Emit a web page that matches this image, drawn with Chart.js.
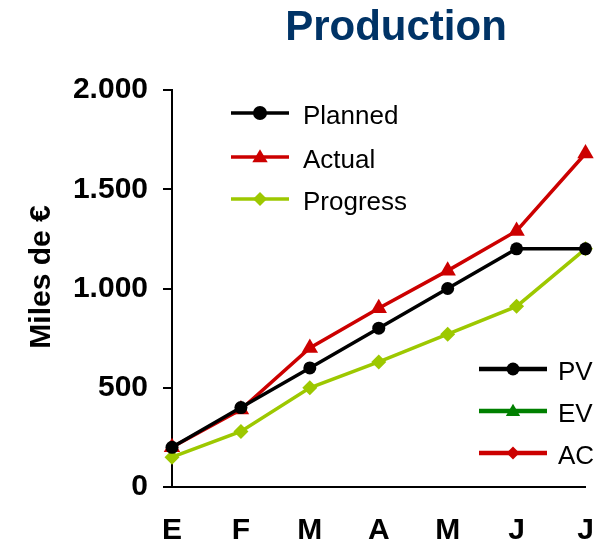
<!DOCTYPE html>
<html>
<head>
<meta charset="utf-8">
<title>Production</title>
<script src="https://cdn.jsdelivr.net/npm/chart.js@4/dist/chart.umd.min.js"></script>
<style>
  html, body { margin: 0; padding: 0; background: #ffffff; }
  #wrap { width: 595px; height: 544px; position: relative; }
</style>
</head>
<body>
<div id="wrap"><canvas id="chart" width="595" height="544"></canvas></div>
<script>
// Months (Spanish initials)
const months = ['E', 'F', 'M', 'A', 'M', 'J', 'J'];

// Values in miles de €
const planned  = [200, 400, 600, 800, 1000, 1200, 1200];
const actual   = [200, 390, 700, 900, 1090, 1290, 1680];
const progress = [150, 280, 500, 630, 770, 910, 1200];

// Y axis ticks
const yTicks = [0, 500, 1000, 1500, 2000];

const FONT = "'Liberation Sans', Arial, Helvetica, sans-serif";
const BLACK = '#000000';
const RED = '#CC0000';
const LIME = '#9DC800';
const GREEN = '#008000';

function fmtThousands(v) {
  return String(Math.round(v)).replace(/\B(?=(\d{3})+(?!\d))/g, '.');
}

function drawMarker(ctx, style, x, y, r, color) {
  ctx.save();
  ctx.fillStyle = color;
  ctx.beginPath();
  if (style === 'circle') {
    ctx.arc(x, y, r, 0, Math.PI * 2);
  } else if (style === 'triangle') {
    ctx.moveTo(x, y - r * 1.1);
    ctx.lineTo(x + r * 1.1, y + r * 0.75);
    ctx.lineTo(x - r * 1.1, y + r * 0.75);
    ctx.closePath();
  } else {
    ctx.moveTo(x, y - r);
    ctx.lineTo(x + r, y);
    ctx.lineTo(x, y + r);
    ctx.lineTo(x - r, y);
    ctx.closePath();
  }
  ctx.fill();
  ctx.restore();
}

// Title, y-axis caption and the two legend boxes
const decorations = {
  id: 'decorations',
  afterDraw(chart) {
    const ctx = chart.ctx;
    ctx.save();
    // Title
    ctx.fillStyle = '#003366';
    ctx.font = 'bold 42px ' + FONT;
    ctx.textAlign = 'center';
    ctx.textBaseline = 'middle';
    ctx.fillText('Production', 396, 28);

    // Y-axis caption
    ctx.save();
    ctx.translate(50, 277);
    ctx.rotate(-Math.PI / 2);
    ctx.fillStyle = BLACK;
    ctx.font = 'bold 30px ' + FONT;
    ctx.textAlign = 'center';
    ctx.textBaseline = 'alphabetic';
    ctx.fillText('Miles de €', 0, 0);
    ctx.restore();

    // Legends: built from the datasets
    const sets = chart.data.datasets;
    const groups = [
      { items: sets.slice(0, 3), x0: 231, x1: 289, tx: 303, ys: [113, 157, 199], lw: 3.5, r: 7 },
      { items: sets.slice(3, 6), x0: 479, x1: 547, tx: 558, ys: [369, 411, 453], lw: 4.5, r: 6.5 }
    ];
    ctx.font = '26px ' + FONT;
    ctx.textAlign = 'left';
    ctx.textBaseline = 'middle';
    groups.forEach(g => {
      g.items.forEach((ds, i) => {
        const y = g.ys[i];
        ctx.strokeStyle = ds.borderColor;
        ctx.lineWidth = g.lw;
        ctx.beginPath();
        ctx.moveTo(g.x0, y);
        ctx.lineTo(g.x1, y);
        ctx.stroke();
        drawMarker(ctx, ds.pointStyle, (g.x0 + g.x1) / 2, y, g.r, ds.pointBackgroundColor);
        ctx.fillStyle = '#000000';
        ctx.fillText(ds.label, g.tx, y + 4);
      });
    });
    ctx.restore();
  }
};

function lineSet(label, data, color, style, radius) {
  return {
    label: label,
    data: data,
    borderColor: color,
    backgroundColor: color,
    pointBackgroundColor: color,
    pointBorderColor: color,
    pointBorderWidth: 0,
    pointStyle: style,
    pointRadius: radius,
    borderWidth: 3.5,
    tension: 0,
    clip: false,
    fill: false
  };
}

new Chart(document.getElementById('chart'), {
  type: 'line',
  data: {
    labels: months,
    datasets: [
      lineSet('Planned', planned, BLACK, 'circle', 6.5),
      lineSet('Actual', actual, RED, 'triangle', 9.5),
      lineSet('Progress', progress, LIME, 'rectRot', 7.5),
      lineSet('PV', [], BLACK, 'circle', 6),
      lineSet('EV', [], GREEN, 'triangle', 6),
      lineSet('AC', [], RED, 'rectRot', 6)
    ]
  },
  options: {
    responsive: false,
    animation: false,
    events: [],
    layout: { padding: { top: 90, right: 9, left: 0, bottom: 0 } },
    plugins: {
      legend: { display: false },
      title: { display: false },
      tooltip: { enabled: false }
    },
    scales: {
      x: {
        offset: false,
        grid: { display: false, drawTicks: false },
        border: { display: true, color: BLACK, width: 2 },
        ticks: {
          color: BLACK,
          font: { family: FONT, size: 30, weight: 'bold' },
          padding: 26,
          maxRotation: 0,
          autoSkip: false
        },
        afterFit(scale) {
          scale.height = 57;
          scale.paddingLeft = 0;
          scale.paddingRight = 0;
        }
      },
      y: {
        min: 0,
        max: 2000,
        afterBuildTicks(scale) { scale.ticks = yTicks.map(v => ({ value: v })); },
        grid: {
          drawOnChartArea: false,
          drawTicks: true,
          tickLength: 9,
          color: BLACK,
          lineWidth: 2
        },
        border: { display: true, color: BLACK, width: 2 },
        ticks: {
          color: BLACK,
          font: { family: FONT, size: 30, weight: 'bold' },
          padding: 15,
          callback: v => fmtThousands(v)
        },
        afterFit(scale) { scale.width = 172; }
      }
    }
  },
  plugins: [decorations]
});
</script>
</body>
</html>
